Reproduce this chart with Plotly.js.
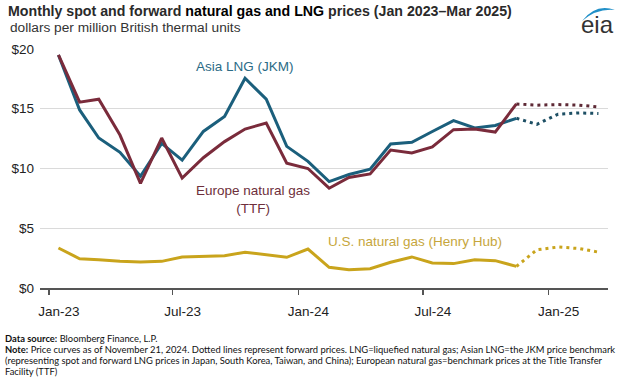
<!DOCTYPE html>
<html>
<head>
<meta charset="utf-8">
<script src="https://cdn.plot.ly/plotly-3.0.1.min.js"></script>
<style>html,body{margin:0;padding:0;background:#fff}#chart{width:625px;height:378px}</style>
</head>
<body>
<div id="chart"></div>
<script>
// Actual monthly prices, Jan-23 .. Nov-24
const actualMonths = ['2023-01','2023-02','2023-03','2023-04','2023-05','2023-06','2023-07','2023-08','2023-09','2023-10','2023-11','2023-12',
  '2024-01','2024-02','2024-03','2024-04','2024-05','2024-06','2024-07','2024-08','2024-09','2024-10','2024-11'];
const asiaLNG = [19.5,14.9,12.55,11.35,9.35,12.1,10.7,13.1,14.35,17.55,15.8,11.85,10.6,8.9,9.5,9.95,12.05,12.2,13.1,14.0,13.4,13.6,14.2];
const europeTTF = [19.5,15.55,15.8,12.8,8.75,12.55,9.2,10.9,12.25,13.3,13.8,10.45,10.0,8.35,9.25,9.55,11.55,11.3,11.8,13.25,13.3,13.05,15.4];
const henryHub = [3.35,2.45,2.37,2.23,2.18,2.23,2.6,2.65,2.7,3.0,2.8,2.57,3.26,1.73,1.53,1.62,2.15,2.6,2.1,2.04,2.37,2.29,1.81];

// Forward curves (as of Nov 21, 2024), Nov-24 .. Mar-25
const forwardMonths = ['2024-11','2024-12','2025-01','2025-02','2025-03'];
const asiaLNGFwd = [14.2,13.7,14.55,14.65,14.6];
const europeTTFFwd = [15.4,15.3,15.35,15.3,15.15];
const henryHubFwd = [1.81,3.2,3.43,3.3,3.0];

// Axis ticks
const tickDates = ['2023-01-01','2023-07-01','2024-01-01','2024-07-01','2025-01-01'];
const tickLabels = ['Jan-23','Jul-23','Jan-24','Jul-24','Jan-25'];
const yTicks = [0,5,10,15,20];
const yTickLabels = ['$0','$5','$10','$15','$20'];

const colors = {asia:'#1b5f7c', europe:'#7a2b3b', hh:'#c9a41c'};
const mid = m => m + '-15';
const xA = actualMonths.map(mid);
const xF = forwardMonths.map(mid);
const dotted = '3px,4px';

const traces = [
  {x:xA, y:henryHub, mode:'lines', line:{color:colors.hh, width:3}, name:'U.S. natural gas (Henry Hub)'},
  {x:xF, y:henryHubFwd, mode:'lines', line:{color:colors.hh, width:3, dash:dotted}, name:'Henry Hub forward'},
  {x:xA, y:asiaLNG, mode:'lines', line:{color:colors.asia, width:3}, name:'Asia LNG (JKM)'},
  {x:xF, y:asiaLNGFwd, mode:'lines', line:{color:'#1d4f64', width:3, dash:dotted}, name:'Asia LNG forward'},
  {x:xA, y:europeTTF, mode:'lines', line:{color:colors.europe, width:3}, name:'Europe natural gas (TTF)'},
  {x:xF, y:europeTTFFwd, mode:'lines', line:{color:'#5e2a36', width:3, dash:dotted}, name:'Europe forward'}
];

const font = 'Liberation Sans, Arial, sans-serif';
const noteFont = 'Lato, Liberation Sans, sans-serif';
const noteSize = 9.4;

const layout = {
  width:625, height:378,
  margin:{l:40, r:17, t:49, b:90},
  paper_bgcolor:'#fff', plot_bgcolor:'#fff',
  showlegend:false,
  font:{family:font, color:'#333', size:13.5},
  title:{
    text:'<b>Monthly spot and forward <span style="color:#000">natural gas and LNG</span> prices (Jan 2023–Mar 2025)</b>',
    font:{family:font, size:14.2, color:'#2a2a2a'},
    x:8/625, xref:'container', xanchor:'left',
    y:1-11/378, yref:'container', yanchor:'middle'
  },
  xaxis:{
    type:'date', range:['2022-12-19','2025-03-29'],
    tickmode:'array', tickvals:tickDates, ticktext:tickLabels,
    ticks:'outside', ticklen:5, tickwidth:1.5, tickcolor:'#555',
    showline:true, linecolor:'#555', linewidth:1.5,
    showgrid:false, zeroline:false,
    ticklabelshift:10, ticklabelstandoff:5,
    tickfont:{family:font, size:13.5, color:'#222'}
  },
  yaxis:{
    range:[0,20], tickmode:'array', tickvals:yTicks, ticktext:yTickLabels,
    showgrid:true, gridcolor:'#dadada', gridwidth:1,
    zeroline:false, showline:false, ticks:'', ticklabelstandoff:5,
    tickfont:{family:font, size:13.5, color:'#222'}
  },
  annotations:[
    {text:'dollars per million British thermal units', xref:'paper', yref:'paper', x:-32/568, y:1+22/239, xanchor:'left', yanchor:'middle', showarrow:false, font:{family:font, size:13.7, color:'#333'}},
    {text:'Asia LNG (JKM)', xref:'paper', yref:'paper', x:(245-40)/568, y:(288-66)/239, xanchor:'center', yanchor:'middle', showarrow:false, font:{family:font, size:13.5, color:'#2b6b86'}},
    {text:'Europe natural gas<br>(TTF)', xref:'paper', yref:'paper', x:(253-40)/568, y:(288-199)/239, xanchor:'center', yanchor:'middle', showarrow:false, font:{family:font, size:13.5, color:'#6e2f3b'}},
    {text:'U.S. natural gas (Henry Hub)', xref:'paper', yref:'paper', x:(415-40)/568, y:(288-241)/239, xanchor:'center', yanchor:'middle', showarrow:false, font:{family:font, size:13.5, color:'#c6a63c'}},
    {text:'eia', xref:'paper', yref:'paper', x:(597-40)/568, y:(288-25)/239, xanchor:'center', yanchor:'middle', showarrow:false, font:{family:font, size:24, color:'#333'}},
    {text:'<b>Data source:</b> Bloomberg Finance, L.P.', xref:'paper', yref:'paper', x:-37/568, y:-(338-288)/239, xanchor:'left', yanchor:'middle', align:'left', showarrow:false, font:{family:noteFont, size:noteSize, color:'#111'}},
    {text:'<b>Note:</b> Price curves as of November 21, 2024. Dotted lines represent forward prices. LNG=liquefied natural gas; Asian LNG=the JKM price benchmark', xref:'paper', yref:'paper', x:-37/568, y:-(349-288)/239, xanchor:'left', yanchor:'middle', align:'left', showarrow:false, font:{family:noteFont, size:noteSize, color:'#111'}},
    {text:'(representing spot and forward LNG prices in Japan, South Korea, Taiwan, and China); European natural gas=benchmark prices at the Title Transfer', xref:'paper', yref:'paper', x:-37/568, y:-(360-288)/239, xanchor:'left', yanchor:'middle', align:'left', showarrow:false, font:{family:noteFont, size:noteSize, color:'#111'}},
    {text:'Facility (TTF)', xref:'paper', yref:'paper', x:-37/568, y:-(371-288)/239, xanchor:'left', yanchor:'middle', align:'left', showarrow:false, font:{family:noteFont, size:noteSize, color:'#111'}}
  ],
  shapes:[
    {type:'path', xref:'paper', yref:'paper', layer:'above', line:{width:0}, fillcolor:'#2190c8',
     path:'M '+((582-40)/568)+' '+((288-21)/239)+' Q '+((596-40)/568)+' '+((288-3)/239)+' '+((615-40)/568)+' '+((288-10)/239)+' Q '+((597-40)/568)+' '+((288-8)/239)+' '+((582-40)/568)+' '+((288-21)/239)+' Z'}
  ]
};

Plotly.newPlot('chart', traces, layout, {displayModeBar:false, staticPlot:true});
</script>
</body>
</html>
